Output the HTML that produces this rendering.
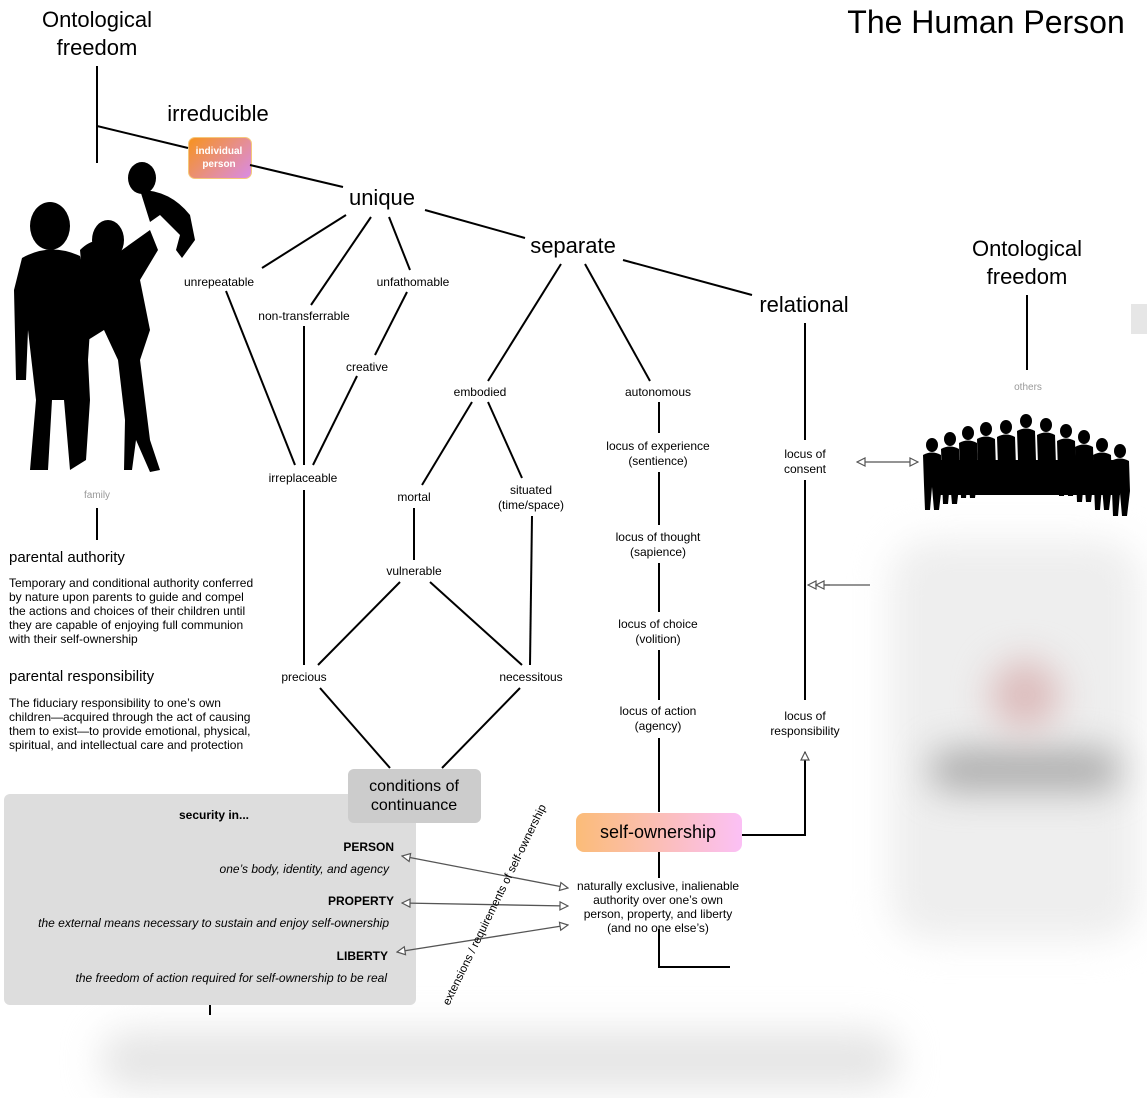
<!DOCTYPE html>
<html><head><meta charset="utf-8"><style>
body{margin:0;width:1147px;height:1098px;background:#fff;overflow:hidden;position:relative;font-family:"Liberation Sans",Arial,sans-serif}
svg{position:absolute;left:0;top:0}
.t{position:absolute;white-space:nowrap;transform:translateX(-50%);text-align:center;color:#000}
.s{font-size:12px;line-height:15px}
.b{font-size:22px}
.p{position:absolute;font-size:12px;line-height:14px;left:9px;width:248px}
.blur{position:absolute;background:#bbb;filter:blur(18px);border-radius:40px}
</style></head><body>
<div class="blur" style="left:100px;top:1030px;width:800px;height:60px;background:#e6e6e6"></div>
<div class="blur" style="left:890px;top:540px;width:250px;height:400px;background:#eeeeee"></div>
<div class="blur" style="left:930px;top:750px;width:190px;height:40px;background:#aaa"></div>
<div class="blur" style="left:990px;top:660px;width:70px;height:70px;background:#dcbcbc"></div>
<div style="position:absolute;left:1131px;top:304px;width:16px;height:30px;background:#e6e6e6"></div>
<div style="position:absolute;left:4px;top:794px;width:412px;height:211px;background:#ddd;border-radius:6px"></div>
<div style="position:absolute;left:348px;top:769px;width:133px;height:54px;background:#ccc;border-radius:6px"></div>
<div style="position:absolute;left:188px;top:137px;width:62px;height:40px;border-radius:7px;background:linear-gradient(135deg,#f7931e,#d98be6);border:1px solid #f5c77a"></div>
<div style="position:absolute;left:576px;top:813px;width:166px;height:39px;border-radius:8px;background:linear-gradient(90deg,#fbbc78,#fbc0f5)"></div>
<svg width="1147" height="1098" viewBox="0 0 1147 1098">
<defs><marker id="a" markerWidth="10" markerHeight="10" refX="9" refY="5" orient="auto-start-reverse" markerUnits="userSpaceOnUse"><path d="M1,1 L9,5 L1,9 Z" fill="#fff" stroke="#555" stroke-width="1.2"/></marker></defs>
<g stroke="#000" stroke-width="2" fill="none">
<line x1="97" y1="66" x2="97" y2="163"/><line x1="97" y1="126" x2="188" y2="148"/>
<line x1="250" y1="165" x2="343" y2="187"/><line x1="425" y1="210" x2="525" y2="238"/>
<line x1="623" y1="260" x2="752" y2="295"/>
<line x1="346" y1="215" x2="262" y2="268"/><line x1="371" y1="217" x2="311" y2="305"/><line x1="389" y1="217" x2="410" y2="270"/>
<line x1="407" y1="292" x2="375" y2="355"/><line x1="357" y1="376" x2="313" y2="465"/>
<line x1="226" y1="291" x2="295" y2="465"/><line x1="304" y1="326" x2="304" y2="465"/>
<line x1="304" y1="490" x2="304" y2="665"/><line x1="320" y1="688" x2="390" y2="768"/>
<line x1="561" y1="264" x2="488" y2="381"/><line x1="585" y1="264" x2="650" y2="381"/>
<line x1="472" y1="402" x2="422" y2="485"/><line x1="488" y1="402" x2="522" y2="478"/>
<line x1="414" y1="508" x2="414" y2="560"/><line x1="400" y1="582" x2="318" y2="665"/><line x1="430" y1="582" x2="522" y2="665"/>
<line x1="532" y1="516" x2="530" y2="665"/><line x1="520" y1="688" x2="442" y2="768"/>
<line x1="659" y1="402" x2="659" y2="433"/><line x1="659" y1="472" x2="659" y2="525"/><line x1="659" y1="563" x2="659" y2="612"/><line x1="659" y1="650" x2="659" y2="700"/><line x1="659" y1="738" x2="659" y2="812"/>
<line x1="659" y1="852" x2="659" y2="878"/><polyline points="659,929 659,967 730,967"/>
<line x1="805" y1="323" x2="805" y2="440"/><line x1="805" y1="480" x2="805" y2="700"/>
<polyline points="742,835 805,835 805,752" marker-end="url(#a)"/>
<line x1="1027" y1="295" x2="1027" y2="370"/>
<line x1="97" y1="508" x2="97" y2="540"/><line x1="210" y1="1005" x2="210" y2="1015"/>
</g>
<g stroke="#555" stroke-width="1.3" fill="none">
<line x1="857" y1="462" x2="918" y2="462" marker-start="url(#a)" marker-end="url(#a)"/>
<line x1="808" y1="585" x2="870" y2="585" marker-start="url(#a)"/>
<line x1="816" y1="585" x2="830" y2="585" marker-start="url(#a)"/>
<line x1="402" y1="856" x2="568" y2="888" marker-start="url(#a)" marker-end="url(#a)"/>
<line x1="402" y1="903" x2="568" y2="906" marker-start="url(#a)" marker-end="url(#a)"/>
<line x1="397" y1="952" x2="568" y2="925" marker-start="url(#a)" marker-end="url(#a)"/>
</g>
<g fill="#000">
<ellipse cx="50" cy="226" rx="20" ry="24"/>
<path d="M22,258 Q50,242 80,256 L92,300 L88,360 L90,400 L86,460 L70,470 L64,400 L52,400 L48,470 L30,470 L36,400 L28,330 L26,380 L16,380 L14,290 Z"/>
<ellipse cx="108" cy="240" rx="16" ry="20"/>
<path d="M80,250 Q100,230 115,255 L150,230 L158,250 L140,280 L150,330 L140,360 L150,440 L160,470 L150,472 L136,440 L132,470 L124,470 L125,420 L118,360 L104,330 L88,340 Z"/>
<ellipse cx="142" cy="178" rx="14" ry="16"/>
<path d="M140,190 Q170,190 190,215 L195,240 L182,258 L176,250 L180,235 L160,215 L150,222 Z"/>
<g transform="translate(920,415)">
<g id="pp"><ellipse cx="12" cy="30" rx="6" ry="7"/><path d="M3,40 Q12,35 21,40 L22,70 L19,95 L14,95 L12,72 L10,95 L5,95 L4,70 Z"/></g>
<use href="#pp" x="18" y="-6"/><use href="#pp" x="36" y="-12"/><use href="#pp" x="54" y="-16"/><use href="#pp" x="74" y="-18"/><use href="#pp" x="94" y="-24"/><use href="#pp" x="114" y="-20"/><use href="#pp" x="134" y="-14"/><use href="#pp" x="152" y="-8"/><use href="#pp" x="170" y="0"/><use href="#pp" x="188" y="6"/>
<path d="M20,45 L200,45 L200,80 L20,80 Z"/>
</g>
</g>
</svg>
<div class="t" style="left:97px;top:6px;font-size:22px;line-height:28px">Ontological<br>freedom</div>
<div class="t b" style="left:218px;top:101px">irreducible</div>
<div class="t" style="left:219px;top:145px;font-size:10px;line-height:13px;color:#fff;font-weight:bold">individual<br>person</div>
<div class="t b" style="left:382px;top:185px">unique</div>
<div class="t b" style="left:573px;top:233px">separate</div>
<div class="t b" style="left:804px;top:292px">relational</div>
<div class="t" style="left:986px;top:4px;font-size:32px">The Human Person</div>
<div class="t" style="left:1027px;top:235px;font-size:22px;line-height:28px">Ontological<br>freedom</div>
<div class="t" style="left:1028px;top:382px;font-size:10px;color:#999">others</div>
<div class="t" style="left:97px;top:490px;font-size:10px;color:#999">family</div>
<div class="t s" style="left:219px;top:275px">unrepeatable</div>
<div class="t s" style="left:304px;top:309px">non-transferrable</div>
<div class="t s" style="left:413px;top:275px">unfathomable</div>
<div class="t s" style="left:367px;top:360px">creative</div>
<div class="t s" style="left:303px;top:471px">irreplaceable</div>
<div class="t s" style="left:480px;top:385px">embodied</div>
<div class="t s" style="left:658px;top:385px">autonomous</div>
<div class="t s" style="left:414px;top:490px">mortal</div>
<div class="t s" style="left:531px;top:483px">situated<br>(time/space)</div>
<div class="t s" style="left:414px;top:564px">vulnerable</div>
<div class="t s" style="left:304px;top:670px">precious</div>
<div class="t s" style="left:531px;top:670px">necessitous</div>
<div class="t s" style="left:658px;top:439px">locus of experience<br>(sentience)</div>
<div class="t s" style="left:658px;top:530px">locus of thought<br>(sapience)</div>
<div class="t s" style="left:658px;top:617px">locus of choice<br>(volition)</div>
<div class="t s" style="left:658px;top:704px">locus of action<br>(agency)</div>
<div class="t s" style="left:805px;top:447px">locus of<br>consent</div>
<div class="t s" style="left:805px;top:709px">locus of<br>responsibility</div>
<div class="t" style="left:414px;top:777px;font-size:16px;line-height:19px">conditions of<br>continuance</div>
<div class="t" style="left:658px;top:822px;font-size:18px">self-ownership</div>
<div class="t s" style="left:658px;top:879px;line-height:14px">naturally exclusive, inalienable<br>authority over one’s own<br>person, property, and liberty<br>(and no one else’s)</div>
<div style="position:absolute;left:9px;top:549px;font-size:15px">parental authority</div>
<div class="p" style="top:576px">Temporary and conditional authority conferred by nature upon parents to guide and compel the actions and choices of their children until they are capable of enjoying full communion with their self-ownership</div>
<div style="position:absolute;left:9px;top:668px;font-size:15px">parental responsibility</div>
<div class="p" style="top:696px">The fiduciary responsibility to one’s own children—acquired through the act of causing them to exist—to provide emotional, physical, spiritual, and intellectual care and protection</div>
<div class="t" style="left:214px;top:808px;font-size:12px;font-weight:bold">security in...</div>
<div style="position:absolute;right:753px;top:840px;font-size:12px;font-weight:bold">PERSON</div>
<div style="position:absolute;right:758px;top:862px;font-size:12px;font-style:italic">one’s body, identity, and agency</div>
<div style="position:absolute;right:753px;top:894px;font-size:12px;font-weight:bold">PROPERTY</div>
<div style="position:absolute;right:758px;top:916px;font-size:12px;font-style:italic">the external means necessary to sustain and enjoy self-ownership</div>
<div style="position:absolute;right:759px;top:949px;font-size:12px;font-weight:bold">LIBERTY</div>
<div style="position:absolute;right:760px;top:971px;font-size:12px;font-style:italic">the freedom of action required for self-ownership to be real</div>
<div style="position:absolute;left:495px;top:905px;font-size:11.5px;white-space:nowrap;transform:translate(-50%,-50%) rotate(-64deg)">extensions / requirements of self-ownership</div>
</body></html>
